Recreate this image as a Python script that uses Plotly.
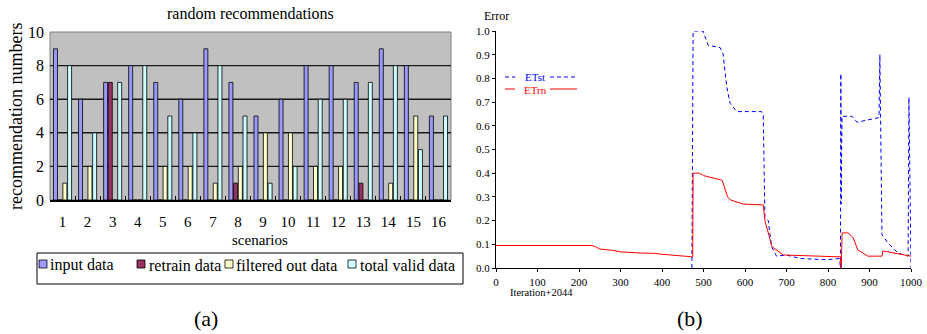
import plotly.graph_objects as go

# ---------------- Panel (a) data ----------------
scenarios = [str(i) for i in range(1, 17)]
input_data = [9, 6, 7, 8, 7, 6, 9, 7, 5, 6, 8, 8, 7, 9, 8, 5]
retrain_data = [0, 0, 7, 0, 0, 0, 0, 1, 0, 0, 0, 0, 1, 0, 0, 0]
filtered_out = [1, 2, 0, 0, 2, 2, 1, 2, 4, 4, 2, 2, 0, 1, 5, 0]
total_valid = [8, 4, 7, 8, 5, 4, 8, 5, 1, 2, 6, 6, 7, 8, 3, 5]
y_ticks_a = [0, 2, 4, 6, 8, 10]
series_names = ["input data", "retrain data", "filtered out data", "total valid data"]
series_colors = ["#9999FF", "#993366", "#FFFFCC", "#CCFFFF"]

# ---------------- Panel (b) data ----------------
etrn_x = [0, 230, 240, 250, 280, 300, 350, 380, 400, 420, 470, 474, 475, 490, 500, 545, 558, 565,
          595, 644, 648, 656, 665, 692, 830, 832, 834, 848, 860, 872, 896, 930, 932, 1000]
etrn_y = [0.095, 0.095, 0.09, 0.08, 0.075, 0.068, 0.063, 0.062, 0.058, 0.055, 0.05, 0.047, 0.40,
          0.40, 0.39, 0.37, 0.30, 0.287, 0.27, 0.266, 0.20, 0.147, 0.09, 0.055, 0.047, 0.0, 0.148,
          0.148, 0.13, 0.076, 0.05, 0.05, 0.072, 0.05]
etst_x = [472, 475, 499, 511, 540, 547, 556, 564, 580, 640, 644, 648, 656, 664, 676, 700, 733, 797,
          828, 830, 831, 832, 833, 834, 858, 870, 901, 923, 925, 930, 945, 969, 993, 995, 1000]
etst_y = [0.0, 1.0, 1.0, 0.94, 0.93, 0.905, 0.765, 0.695, 0.66, 0.66, 0.645, 0.215, 0.20, 0.09, 0.05,
          0.055, 0.04, 0.035, 0.04, 0.0, 0.82, 0.27, 0.53, 0.64, 0.64, 0.615, 0.625, 0.635, 0.90,
          0.14, 0.105, 0.063, 0.05, 0.72, 0.0]
x_ticks_b = list(range(0, 1001, 100))
y_ticks_b = [round(i * 0.1, 1) for i in range(11)]

W, H = 927, 334
SERIF = '"Liberation Serif", "Times New Roman", serif'


def px(x):
    return x / W


def py(y):
    return 1 - y / H


fig = go.Figure()

for name, vals, col in zip(series_names, [input_data, retrain_data, filtered_out, total_valid], series_colors):
    fig.add_trace(go.Bar(x=scenarios, y=vals, name=name,
                         marker=dict(color=col, line=dict(color="black", width=0.8)),
                         xaxis="x", yaxis="y", showlegend=False))

fig.add_trace(go.Scatter(x=etst_x, y=etst_y, mode="lines", name="ETst",
                         line=dict(color="#0000FF", width=1, dash="4px,3px"),
                         xaxis="x2", yaxis="y2", showlegend=False))
fig.add_trace(go.Scatter(x=etrn_x, y=etrn_y, mode="lines", name="ETrn",
                         line=dict(color="#FF0000", width=1),
                         xaxis="x2", yaxis="y2", showlegend=False))

fig.update_layout(
    width=W, height=H, margin=dict(l=0, r=0, t=0, b=0, autoexpand=False),
    paper_bgcolor="white", plot_bgcolor="rgba(0,0,0,0)",
    barmode="group", bargap=0.25, bargroupgap=0.15,
    font=dict(family=SERIF, color="black"),
    showlegend=False,
    xaxis=dict(domain=[px(50), px(451)], anchor="y", type="category",
               showline=True, linecolor="black", linewidth=1.5,
               ticks="inside", tickson="boundaries", ticklen=4, tickcolor="black",
               tickangle=0, ticklabelstandoff=7, tickfont=dict(size=15, family=SERIF),
               showgrid=False, fixedrange=True),
    yaxis=dict(domain=[py(200), py(32)], anchor="x", range=[0, 10], tickvals=y_ticks_a,
               showgrid=False, zeroline=False,
               showline=False, ticks="", tickfont=dict(size=16, family=SERIF),
               ticklabelstandoff=5),
    xaxis2=dict(domain=[px(496), px(911)], anchor="y2", range=[0, 1000], tickvals=x_ticks_b,
                showline=True, linecolor="black", linewidth=1, ticks="outside", ticklen=3,
                tickcolor="black", showgrid=False, zeroline=False, tickangle=0,
                ticklabelstandoff=1, tickfont=dict(size=11, family=SERIF)),
    yaxis2=dict(domain=[py(268), py(31)], anchor="x2", range=[0, 1.0], tickvals=y_ticks_b,
                tickformat=".1f", showline=True, linecolor="black", linewidth=1,
                ticks="outside", ticklen=3, tickcolor="black", showgrid=False, zeroline=False,
                tickfont=dict(size=11, family=SERIF)),
)

# gray plot area of panel (a)
fig.add_shape(type="rect", xref="x domain", yref="y domain", x0=0, x1=1, y0=0, y1=1,
              fillcolor="#C0C0C0", line=dict(color="#808080", width=1), layer="below")
# horizontal gridlines of panel (a) (inner ticks only)
for t in y_ticks_a[1:-1]:
    fig.add_shape(type="line", xref="x domain", yref="y", x0=0, x1=1, y0=t, y1=t,
                  line=dict(color="#1a1a1a", width=1.4), layer="below")

# panel (a) legend (box, colour keys, labels)
fig.add_shape(type="rect", xref="paper", yref="paper", x0=px(37), x1=px(463), y0=py(284), y1=py(253),
              line=dict(color="black", width=1), fillcolor="white")
key_x = [39, 137, 225, 348]
text_x = [48, 147, 234, 358]
for kx, tx, name, col in zip(key_x, text_x, series_names, series_colors):
    fig.add_shape(type="rect", xref="paper", yref="paper", x0=px(kx), x1=px(kx + 8),
                  y0=py(268), y1=py(260), fillcolor=col, line=dict(color="black", width=0.8))
    fig.add_annotation(text=name, x=px(tx), y=py(265), xref="paper", yref="paper", showarrow=False,
                       xanchor="left", yanchor="middle", font=dict(size=16, family=SERIF, color="black"))

# panel (b) legend lines
for yy, col, dash in [(77, "#0000FF", "4px,3px"), (89, "#FF0000", "solid")]:
    fig.add_shape(type="line", xref="paper", yref="paper", x0=px(505), x1=px(515), y0=py(yy), y1=py(yy),
                  line=dict(color=col, width=1, dash=dash))
    fig.add_shape(type="line", xref="paper", yref="paper", x0=px(550), x1=px(577), y0=py(yy), y1=py(yy),
                  line=dict(color=col, width=1, dash=dash))

annots = [
    ("random recommendations", 250, 13, 16, 0, "black"),
    ("recommendation numbers", 16, 117, 18, -90, "black"),
    ("scenarios", 260, 240, 15, 0, "black"),
    ("(a)", 206, 318, 22, 0, "black"),
    ("(b)", 690, 318, 22, 0, "black"),
    ("Error", 496, 16, 12, 0, "black"),
    ("Iteration+2044", 541, 292, 10.5, 0, "black"),
    ("ETst", 535, 76.5, 11, 0, "#0000FF"),
    ("ETrn", 535, 89.5, 11, 0, "#FF0000"),
]
for text, x, y, size, ang, col in annots:
    fig.add_annotation(text=text, x=px(x), y=py(y), xref="paper", yref="paper", showarrow=False,
                       xanchor="center", yanchor="middle", textangle=ang, borderpad=0,
                       font=dict(size=size, family=SERIF, color=col))

fig.write_html("out.html")
